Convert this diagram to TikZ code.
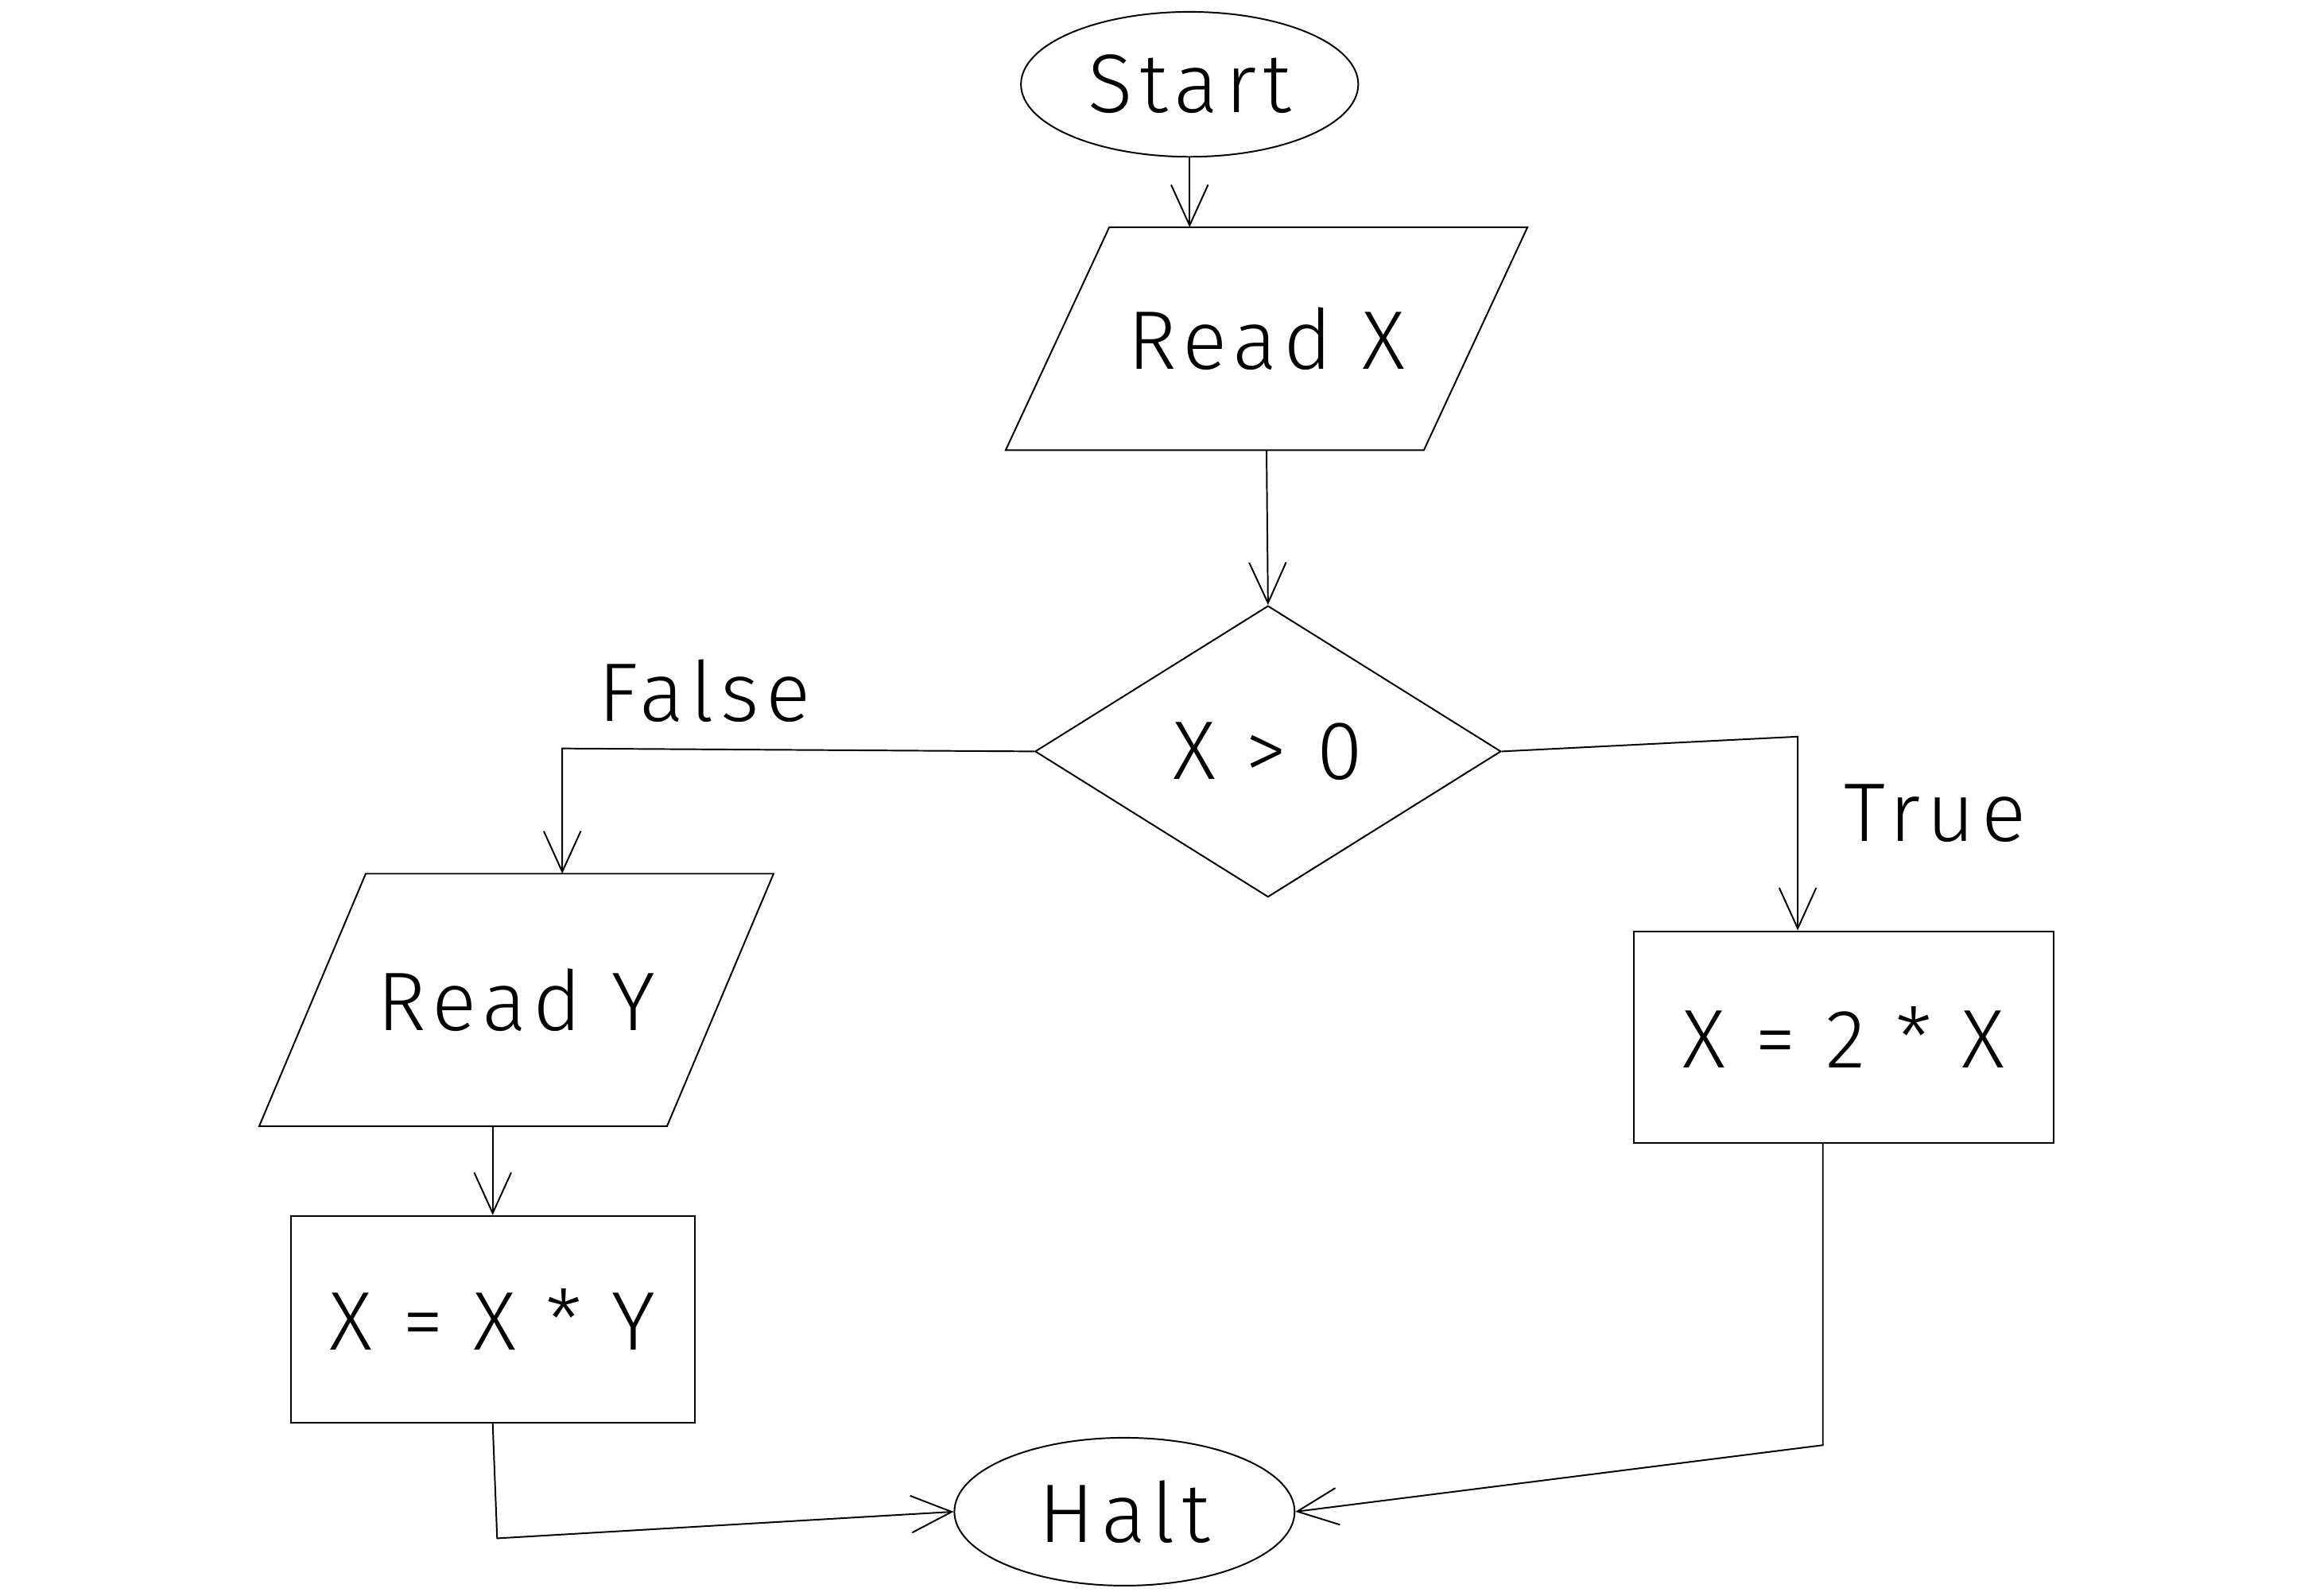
\documentclass[tikz,border=0pt]{standalone}
\usepackage{fontspec}
\setmainfont{Fira Sans Light}[LetterSpace=8]
\usetikzlibrary{shapes.geometric,arrows.meta,calc}
\tikzset{
  hand/.style={line width=0.6pt, draw=black},
  txt/.style={font=\fontsize{32}{36}\selectfont},
  term/.style={hand, ellipse, inner sep=0pt, txt},
  io/.style={rectangle, draw=none, inner sep=0pt, txt},
  proc/.style={hand, rectangle, inner sep=0pt, txt},
  decide/.style={hand, diamond, inner sep=0pt, txt},
  arr/.style={hand, -{Straight Barb[length=0.55cm,width=0.5cm,line width=0.6pt]}},
  lbl/.style={txt}
}
\begin{document}
\begin{tikzpicture}[x=0.02cm,y=-0.02cm]
\useasboundingbox[fill=white] (0,0) rectangle (1568,1079);
\node[term, minimum width=4.56cm, minimum height=1.96cm] (start) at (804,57) {Start};
\node[io, minimum width=5.64cm, minimum height=3.0cm] (readx) at (856,229) {Read X};
\node[decide, minimum width=6.3cm, minimum height=3.94cm] (dec) at (857,508) {X > 0};
\node[io, minimum width=5.5cm, minimum height=3.4cm] (ready) at (349,676) {Read Y};
\node[proc, minimum width=5.46cm, minimum height=2.8cm] (xy) at (333,892) {X = X * Y};
\node[proc, minimum width=5.68cm, minimum height=2.86cm] (x2) at (1246,701) {X = 2 * X};
\node[term, minimum width=4.6cm, minimum height=2.0cm] (halt) at (760,1022) {Halt};
\node[lbl] (lfalse) at (476,467) {False};
\node[lbl] (ltrue) at (1308,550) {True};
% parallelogram outlines
\draw[hand] ($(readx.south west)+(-35,0)$) -- ($(readx.north west)+(35,0)$) -- ($(readx.north east)+(35,0)$) -- ($(readx.south east)+(-35,0)$) -- cycle;
\draw[hand] ($(ready.south west)+(-36,0)$) -- ($(ready.north west)+(36,0)$) -- ($(ready.north east)+(36,0)$) -- ($(ready.south east)+(-36,0)$) -- cycle;
\coordinate (fk) at (380,506);
\coordinate (tk) at (1215,498);
\coordinate (lb) at (336,1040);
\coordinate (rb) at (1232,977);
\draw[arr] (start.south) -- (start.south |- readx.north);
\draw[arr] (readx.south) -- (dec.north);
\draw[arr] (dec.west) -- (fk) -- (fk |- ready.north);
\draw[arr] (dec.east) -- (tk) -- (tk |- x2.north);
\draw[arr] (xy.north |- ready.south) -- (xy.north);
\draw[arr] (xy.south) -- (lb) -- (halt.west);
\draw[arr] (rb |- x2.south) -- (rb) -- (halt.east);
\end{tikzpicture}
\end{document}
